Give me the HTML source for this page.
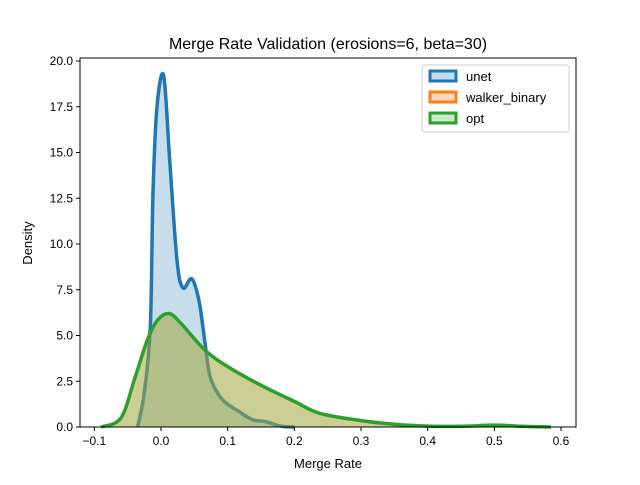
<!DOCTYPE html>
<html><head><meta charset="utf-8"><style>
body{margin:0;background:#fff;}
svg{font-family:"Liberation Sans","DejaVu Sans",sans-serif;}
</style></head><body>
<svg width="640" height="480">
<rect width="640" height="480" fill="#fff"/>
<g id="plot"></g>
<text x="328" y="49" font-size="16" text-anchor="middle">Merge Rate Validation (erosions=6, beta=30)</text>
<text x="328" y="468" font-size="13" text-anchor="middle">Merge Rate</text>
<text x="32" y="243" font-size="13" text-anchor="middle" transform="rotate(-90 32 243)">Density</text>
<g>
<rect x="422" y="65" width="147" height="67" rx="3" fill="#fff" fill-opacity="0.8" stroke="#ccc"/>
<rect x="430" y="71" width="26" height="10" fill="#c6dbee" stroke="#1f77b4" stroke-width="3"/>
<text x="466" y="81" font-size="13">unet</text>
<rect x="430" y="92" width="26" height="10" fill="#fdd9bd" stroke="#ff7f0e" stroke-width="3"/>
<text x="466" y="102" font-size="13">walker_binary</text>
<rect x="430" y="113" width="26" height="10" fill="#cbe6c9" stroke="#2ca02c" stroke-width="3"/>
<text x="466" y="123" font-size="13">opt</text>
</g>
</svg>
<script>
const xTicks=[-0.1,0.0,0.1,0.2,0.3,0.4,0.5,0.6];
const xTickLabels=["−0.1","0.0","0.1","0.2","0.3","0.4","0.5","0.6"];
const yTicks=[0,2.5,5,7.5,10,12.5,15,17.5,20];
const yTickLabels=["0.0","2.5","5.0","7.5","10.0","12.5","15.0","17.5","20.0"];
const unetX=[-0.035,-0.025,-0.016,-0.012,-0.006,0.004,0.013,0.024,0.033,0.046,0.057,0.066,0.074,0.092,0.119,0.137,0.156,0.18,0.2];
const unetY=[0,1.9,5.5,12.8,17.5,19.2,14.6,9.1,7.6,8.1,6.9,4.6,2.7,1.5,0.8,0.4,0.3,0.05,0];
const optX=[-0.09,-0.06,-0.039,-0.02,-0.005,0.012,0.029,0.066,0.1,0.149,0.2,0.238,0.3,0.35,0.4,0.45,0.5,0.54,0.585];
const optY=[0,0.5,2.7,4.8,5.85,6.2,5.7,4.2,3.3,2.3,1.4,0.75,0.35,0.15,0.05,0.04,0.1,0.04,0];
const L=80,R=576,T=58,B=427;
const sx=v=>161+v*666.7, sy=v=>B-v*18.3;
const ns="http://www.w3.org/2000/svg", g=document.getElementById('plot');
function mk(t,a){const e=document.createElementNS(ns,t);for(const k in a)e.setAttribute(k,a[k]);g.appendChild(e);return e;}
function pts(xs,ys){return xs.map((x,i)=>[sx(x),sy(ys[i])]);}
function smooth(p){let d="M"+p[0][0]+","+p[0][1];for(let i=0;i<p.length-1;i++){const p0=p[Math.max(0,i-1)],p1=p[i],p2=p[i+1],p3=p[Math.min(p.length-1,i+2)];const c1=[p1[0]+(p2[0]-p0[0])/6,p1[1]+(p2[1]-p0[1])/6],c2=[p2[0]-(p3[0]-p1[0])/6,p2[1]-(p3[1]-p1[1])/6];d+=" C"+c1+" "+c2+" "+p2;}return d;}
const pu=pts(unetX,unetY), po=pts(optX,optY);
let e;
e=mk('path',{d:smooth(pu)+" L"+pu[pu.length-1][0]+","+B+" L"+pu[0][0]+","+B+"Z",fill:"#1f77b4","fill-opacity":0.25});

e=mk('path',{d:smooth(pu),fill:"none",stroke:"#1f77b4","stroke-width":3.5});

e=mk('path',{d:smooth(po)+" L"+po[po.length-1][0]+","+B+" L"+po[0][0]+","+B+"Z",fill:"#a3a83a","fill-opacity":0.55});

e=mk('path',{d:smooth(po),fill:"none",stroke:"#2ca02c","stroke-width":3.5});

e=mk('rect',{x:L,y:T,width:R-L,height:B-T,fill:"none",stroke:"#000","stroke-width":1});

xTicks.forEach((v,i)=>{const x=sx(v);
e=mk('line',{x1:x,x2:x,y1:B,y2:B+4,stroke:"#000"});
e=mk('text',{x:x,y:B+18,"font-size":12,"text-anchor":"middle"});e.textContent=xTickLabels[i];});
yTicks.forEach((v,i)=>{const y=sy(v);
e=mk('line',{x1:L-4,x2:L,y1:y,y2:y,stroke:"#000"});
e=mk('text',{x:L-7,y:y+4,"font-size":12,"text-anchor":"end"});e.textContent=yTickLabels[i];});
</script>
</body></html>
